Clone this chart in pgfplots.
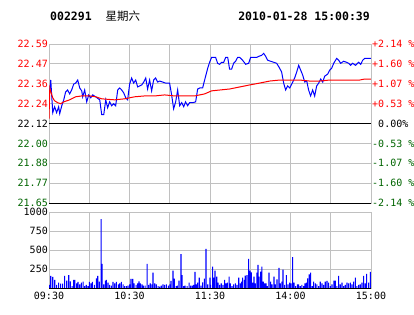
\documentclass[border=0pt]{standalone}
\usepackage{pgfplots}
\pgfplotsset{compat=1.18}
\usepackage{fontspec}
\setmonofont{DejaVu Sans Mono}
\newfontfamily\cjk{Noto Sans CJK SC}
\definecolor{gridgray}{RGB}{192,192,192}
\definecolor{lblred}{RGB}{255,0,0}
\definecolor{lblgreen}{RGB}{0,100,0}
\begin{document}
\begin{tikzpicture}[x=1pt,y=1pt]
\useasboundingbox (0,0) rectangle (414,314);
\node[anchor=west,font=\ttfamily\bfseries\fontsize{11.5}{13}\selectfont,inner sep=0pt] at (50,298) {002291\ \ {\cjk\mdseries 星期六}};
\node[anchor=east,font=\ttfamily\bfseries\fontsize{11.5}{13}\selectfont,inner sep=0pt] at (370,298) {2010-01-28 15:00:39};
% price panel
\begin{axis}[
  at={(49pt,111pt)}, anchor=south west, scale only axis,
  width=322pt, height=159pt,
  xmin=0, xmax=240, ymin=21.65, ymax=22.59,
  xtick={0,30,...,240}, xticklabels={},
  ytick={21.65,21.7675,21.885,22.0025,22.2375,22.355,22.4725,22.59},
  yticklabels={\textcolor{lblgreen}{21.65},\textcolor{lblgreen}{21.77},\textcolor{lblgreen}{21.88},\textcolor{lblgreen}{22.00},\textcolor{lblred}{22.24},\textcolor{lblred}{22.36},\textcolor{lblred}{22.47},\textcolor{lblred}{22.59}},
  extra y ticks={22.12}, extra y tick labels={22.12},
  extra y tick style={grid=major, major grid style={black, line width=1pt}},
  grid=major, major grid style={gridgray, line width=1pt},
  axis line style={gridgray, line width=1pt},
  major tick length=0pt,
  yticklabel style={font=\ttfamily\fontsize{10}{12}\selectfont, anchor=east, inner sep=1pt},
  clip=true,
]
\addplot[blue, line width=1pt] coordinates {
(0,22.260) (1.3,22.377) (2.8,22.184) (4.2,22.219) (5.7,22.184) (7.2,22.219) (8.0,22.178) (9.5,22.225) (11.0,22.260) (12.4,22.307) (13.9,22.318) (15.4,22.295) (16.9,22.318) (18.4,22.353) (19.9,22.359) (21.4,22.377) (22.9,22.330) (24.4,22.313) (25.1,22.278) (26.6,22.318) (28.1,22.248) (29.6,22.289) (31.1,22.272) (32.6,22.289) (34.8,22.278) (37.8,22.260) (39.3,22.172) (40.8,22.172) (42.3,22.260) (43.7,22.213) (45.2,22.248) (46.7,22.225) (48.2,22.237) (49.7,22.225) (51.2,22.318) (52.7,22.330) (54.2,22.318) (55.7,22.301) (57.2,22.272) (58.6,22.260) (60.1,22.353) (61.6,22.389) (63.1,22.359) (64.6,22.377) (66.1,22.336) (67.6,22.342) (69.1,22.348) (70.6,22.365) (72.1,22.389) (73.5,22.324) (75.0,22.377) (76.5,22.313) (78.0,22.377) (79.5,22.389) (81.0,22.365) (82.5,22.371) (84.7,22.365) (86.9,22.359) (89.9,22.359) (91.4,22.289) (92.9,22.207) (94.4,22.248) (95.9,22.318) (97.4,22.225) (98.9,22.243) (100.4,22.219) (101.8,22.248) (103.3,22.225) (104.8,22.243) (107.1,22.243) (109.3,22.248) (110.8,22.324) (112.3,22.330) (114.5,22.330) (116.0,22.377) (118.3,22.447) (119.7,22.482) (121.2,22.511) (122.7,22.511) (124.2,22.511) (125.7,22.476) (127.2,22.470) (128.7,22.482) (130.2,22.482) (131.7,22.511) (133.2,22.511) (134.6,22.441) (136.1,22.441) (137.6,22.476) (139.1,22.488) (140.6,22.511) (142.1,22.511) (144.3,22.494) (146.6,22.470) (148.8,22.476) (150.3,22.511) (152.5,22.511) (154.8,22.511) (156.3,22.517) (158.5,22.523) (160.0,22.535) (161.5,22.517) (163.0,22.494) (165.2,22.488) (167.5,22.482) (169.7,22.476) (171.9,22.447) (173.4,22.424) (174.9,22.359) (176.4,22.318) (177.9,22.342) (179.4,22.330) (180.9,22.353) (183.1,22.389) (184.6,22.424) (186.1,22.464) (187.6,22.435) (189.1,22.406) (190.6,22.365) (192.1,22.371) (193.5,22.318) (195.0,22.283) (196.5,22.318) (198.0,22.283) (199.5,22.342) (201.0,22.359) (202.5,22.383) (204.0,22.365) (205.5,22.400) (207.7,22.412) (209.2,22.435) (210.7,22.447) (212.2,22.476) (214.4,22.505) (215.9,22.494) (217.4,22.476) (219.6,22.488) (221.8,22.482) (223.3,22.476) (224.8,22.464) (226.3,22.476) (228.5,22.464) (230.8,22.482) (232.3,22.470) (233.8,22.494) (235.3,22.505) (239.0,22.505) (240,22.505)
};
\addplot[lblred, line width=1pt] coordinates {
(0,22.149) (0.6,22.330) (1.3,22.310) (2.8,22.272) (4.2,22.254) (6.5,22.243) (8.7,22.237) (11.0,22.248) (15.4,22.260) (19.9,22.278) (24.4,22.283) (30.4,22.283) (34.8,22.278) (39.3,22.266) (43.7,22.263) (49,22.260) (56.4,22.266) (63.9,22.278) (71.3,22.283) (78.8,22.283) (86.2,22.289) (93.7,22.283) (101.1,22.283) (108.6,22.283) (116.0,22.295) (121.2,22.313) (127.2,22.318) (134.6,22.324) (142.1,22.336) (149.6,22.348) (157.0,22.359) (164.5,22.371) (171.9,22.377) (179.4,22.377) (186.8,22.377) (194.3,22.371) (201.7,22.371) (209.2,22.377) (216.7,22.377) (224.1,22.377) (231.6,22.377) (235.3,22.383) (240,22.383)
};
\draw[black, line width=1pt] (rel axis cs:0,0) -- (rel axis cs:1,0);
\end{axis}
% right percent labels
\begin{axis}[
  at={(49pt,111pt)}, anchor=south west, scale only axis,
  width=322pt, height=159pt,
  xmin=0, xmax=240, ymin=21.65, ymax=22.59,
  hide x axis, axis y line*=right,
  axis line style={gridgray, line width=1pt},
  major tick length=0pt,
  ytick={21.65,21.7675,21.885,22.0025,22.12,22.2375,22.355,22.4725,22.59},
  yticklabels={\textcolor{lblgreen}{-2.14 \%},\textcolor{lblgreen}{-1.60 \%},\textcolor{lblgreen}{-1.07 \%},\textcolor{lblgreen}{-0.53 \%},{\phantom{+}0.00\%},\textcolor{lblred}{+0.53 \%},\textcolor{lblred}{+1.07 \%},\textcolor{lblred}{+1.60 \%},\textcolor{lblred}{+2.14 \%}},
  yticklabel style={font=\ttfamily\fontsize{10}{12}\selectfont, anchor=west, inner sep=1pt},
]
\end{axis}
% volume panel
\begin{axis}[
  at={(49pt,25.7pt)}, anchor=south west, scale only axis,
  width=322pt, height=76pt,
  xmin=0, xmax=240, ymin=0, ymax=1000,
  xtick={0,30,...,240}, xticklabels={09:30,,10:30,,11:30,,14:00,,15:00},
  ytick={250,500,750,1000},
  yticklabels={250,750,500,1000},
  yticklabels={250,500,750,1000},
  grid=major, major grid style={gridgray, line width=1pt},
  axis line style={gridgray, line width=1pt},
  major tick length=0pt,
  yticklabel style={font=\ttfamily\fontsize{10}{12}\selectfont, anchor=east, inner sep=1pt},
  xticklabel style={font=\ttfamily\fontsize{10}{12}\selectfont, anchor=north, inner sep=1pt, yshift=-3pt},
  clip=true,
]
\addplot[ybar, bar width=1.1pt, fill=blue, draw=none] coordinates {
(0.5,44) (1.3,162) (2.8,149) (4.3,110) (5.7,44) (7.2,75) (8.7,61) (10.2,61) (11.7,162) (13.2,100) (14.7,175) (15.9,92) (17.2,30) (18.4,110) (19.2,110) (20.6,66) (21.6,83) (22.9,53) (24.1,75) (25.4,88) (26.6,30) (27.8,44) (29.1,30) (30.1,83) (31.3,66) (32.3,83) (33.8,44) (35.3,132) (36.3,162) (37.5,88) (38.8,910) (39.5,320) (40.8,53) (42.0,100) (42.8,110) (44.0,75) (45.2,44) (46.5,35) (47.7,83) (49.0,66) (50.2,83) (51.7,53) (52.7,66) (53.9,83) (55.2,53) (56.4,30) (57.7,30) (58.9,35) (60.1,53) (61.1,123) (62.4,123) (63.4,66) (64.9,44) (66.1,66) (67.1,92) (68.1,66) (69.3,53) (70.3,35) (71.6,35) (73.1,320) (74.3,44) (75.5,66) (76.8,53) (77.5,206) (78.8,66) (80.0,53) (81.3,30) (82.5,22) (83.7,35) (85.0,53) (86.2,44) (87.5,53) (89.0,35) (90.2,53) (90.9,97) (92.4,233) (93.4,127) (94.7,30) (95.7,35) (96.9,100) (98.4,450) (99.1,175) (100.4,30) (101.4,35) (102.9,30) (104.4,75) (105.6,35) (106.8,35) (107.8,44) (108.8,215) (109.8,53) (110.8,75) (112.0,140) (113.3,35) (114.5,79) (115.8,127) (117.0,520) (118.3,53) (120.0,140)
(120.5,44) (122.0,285) (123.0,140) (123.7,233) (125.0,154) (126.0,75) (127.2,44) (128.4,66) (129.7,44) (130.9,110) (131.9,66) (132.9,75) (134.2,154) (135.1,66) (136.4,30) (137.6,53) (138.9,66) (140.1,44) (141.4,140) (142.6,66) (143.6,88) (144.3,140) (145.6,110) (146.3,167) (147.6,175) (148.8,386) (149.8,233) (150.8,211) (151.8,75) (152.8,154) (153.8,66) (155.0,206) (155.8,307) (156.5,154) (157.7,220) (158.7,285) (159.7,88) (160.7,66) (161.7,66) (162.7,30) (164.0,206) (165.2,88) (166.2,53) (167.7,154) (168.7,53) (169.9,119) (171.4,268) (172.4,66) (173.6,88) (174.4,246) (175.6,44) (176.9,175) (178.1,53) (179.4,75) (180.4,66) (181.6,410) (182.6,75) (183.8,30) (185.1,53) (186.1,53) (187.3,30) (188.5,44) (189.8,30) (190.8,66) (191.8,75) (192.8,132) (194.0,184) (195.0,206) (196.2,30) (197.2,88) (198.5,66) (199.7,53) (201.0,30) (202.2,88) (203.5,66) (204.7,44) (205.9,88) (207.2,97) (208.4,75) (209.7,30) (210.9,53) (212.4,100) (213.4,100) (214.6,30) (215.9,162) (217.1,53) (218.4,75) (219.6,30) (220.8,44) (222.1,75) (223.3,66) (224.6,75) (225.8,53) (227.0,88) (228.3,140) (229.5,30) (230.8,44) (232.0,53) (233.3,75) (234.5,162) (235.7,66) (236.7,189) (238.2,75) (239.5,215)
};
\draw[black, line width=1pt] (rel axis cs:0,0) -- (rel axis cs:1,0);
\end{axis}
\end{tikzpicture}
\end{document}
